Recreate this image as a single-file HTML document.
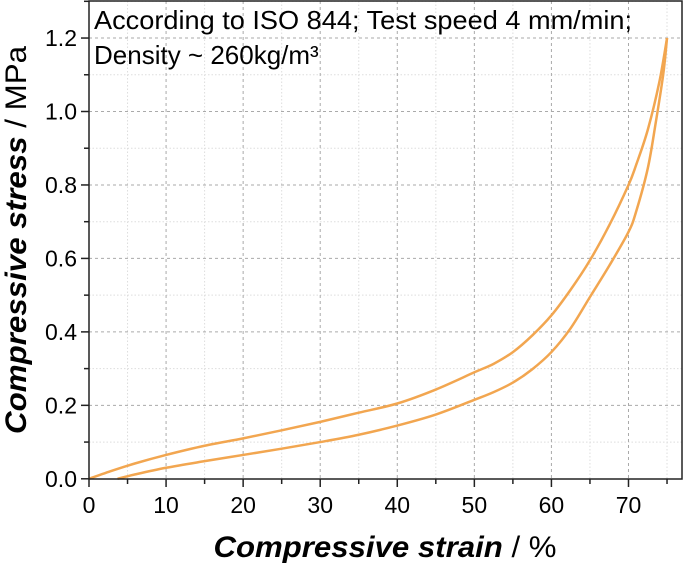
<!DOCTYPE html>
<html><head><meta charset="utf-8"><style>
body{margin:0;background:#fff;}
svg{display:block;font-family:"Liberation Sans",Arial,sans-serif;}
</style></head><body>
<svg id="c" width="685" height="572"></svg>
<script>
const xTicks=[0,10,20,30,40,50,60,70];
const yTicks=[0.0,0.2,0.4,0.6,0.8,1.0,1.2];
const yTickLabels=["0.0","0.2","0.4","0.6","0.8","1.0","1.2"];
const loadStrain=[0,3,6,10,15,20,25,30,35,40,45,50,52.5,55,57.5,60,62.5,65,67.5,70,71,72.5,74,75];
const loadStress=[0,0.022,0.042,0.065,0.09,0.11,0.132,0.155,0.18,0.205,0.243,0.29,0.313,0.345,0.39,0.445,0.515,0.595,0.69,0.8,0.855,0.95,1.08,1.2];
const unloadStrain=[75,74.5,73.5,72.5,71,70,67.5,65,62.5,60,57.5,55,52.5,50,45,40,35,30,25,20,15,10,6,3.7];
const unloadStress=[1.2,1.1,0.965,0.845,0.728,0.672,0.58,0.495,0.41,0.345,0.298,0.262,0.236,0.215,0.175,0.145,0.12,0.1,0.082,0.065,0.048,0.03,0.012,0];
const X0=89,XK=7.707,Y0=478.8,YK=367.3;
const xs=v=>X0+v*XK, ys=v=>Y0-v*YK;
const svg=document.getElementById('c');const NS='http://www.w3.org/2000/svg';
function mk(t,a,p){const e=document.createElementNS(NS,t);for(const k in a)e.setAttribute(k,a[k]);(p||svg).appendChild(e);return e;}
const L=89,R=682,T=1,B=479;
for(let v=5;v<77;v+=10){const g=mk('line',{x1:xs(v),x2:xs(v),y1:T,y2:B,stroke:'#ddd','stroke-dasharray':'1.5,2'});}
for(let v=0.1;v<1.3;v+=0.2){const g=mk('line',{x1:L,x2:R,y1:ys(v),y2:ys(v),stroke:'#ddd','stroke-dasharray':'1.5,2'});}
xTicks.forEach(v=>{if(v===0)return;const g=mk('line',{x1:xs(v),x2:xs(v),y1:T,y2:B,stroke:'#aaa','stroke-dasharray':'3,3'});});
yTicks.forEach(v=>{if(v===0)return;const g=mk('line',{x1:L,x2:R,y1:ys(v),y2:ys(v),stroke:'#aaa','stroke-dasharray':'3,3'});});
function path(xa,ya,name){const p=xa.map((x,i)=>[xs(x),ys(ya[i])]);
let d='M'+p[0][0]+','+p[0][1];
for(let i=0;i<p.length-1;i++){const p0=p[Math.max(0,i-1)],p1=p[i],p2=p[i+1],p3=p[Math.min(p.length-1,i+2)];
d+=' C'+(p1[0]+(p2[0]-p0[0])/6)+','+(p1[1]+(p2[1]-p0[1])/6)+' '+(p2[0]-(p3[0]-p1[0])/6)+','+(p2[1]-(p3[1]-p1[1])/6)+' '+p2[0]+','+p2[1];}
const e=mk('path',{d:d,fill:'none',stroke:'#f2a650','stroke-width':2.5});}
path(loadStrain,loadStress,'loading-curve');
path(unloadStrain,unloadStress,'unloading-curve');
const fr=mk('rect',{x:L,y:T,width:R-L,height:B-T,fill:'none',stroke:'#222','stroke-width':1.5});
xTicks.forEach((v,i)=>{mk('line',{x1:xs(v),x2:xs(v),y1:B,y2:B+8,stroke:'#222','stroke-width':1.5});
const t=mk('text',{x:xs(v),y:B+34,'text-anchor':'middle','font-size':23});t.textContent=v;});
for(let v=5;v<77;v+=10)mk('line',{x1:xs(v),x2:xs(v),y1:B,y2:B+5,stroke:'#222','stroke-width':1.5});
yTicks.forEach((v,i)=>{mk('line',{x1:L-8,x2:L,y1:ys(v),y2:ys(v),stroke:'#222','stroke-width':1.5});
const t=mk('text',{x:L-12,y:ys(v)+8,'text-anchor':'end','font-size':23});t.textContent=yTickLabels[i];});
for(let v=0.1;v<1.3;v+=0.2)mk('line',{x1:L-5,x2:L,y1:ys(v),y2:ys(v),stroke:'#222','stroke-width':1.5});
</script>
<svg width="685" height="572" style="position:absolute;left:0;top:0">
<text x="94" y="29" font-size="26" textLength="538" lengthAdjust="spacingAndGlyphs" font-family="Liberation Sans,Arial,sans-serif">According to ISO 844; Test speed 4 mm/min;</text>
<text x="94" y="64" font-size="26" font-family="Liberation Sans,Arial,sans-serif">Density ~ 260kg/m³</text>
<text x="385" y="557" text-anchor="middle" font-size="30" textLength="343" lengthAdjust="spacingAndGlyphs" font-family="Liberation Sans,Arial,sans-serif"><tspan font-weight="bold" font-style="italic">Compressive strain</tspan> / %</text>
<text transform="translate(26,240) rotate(-90)" text-anchor="middle" font-size="30" textLength="388" lengthAdjust="spacingAndGlyphs" font-family="Liberation Sans,Arial,sans-serif"><tspan font-weight="bold" font-style="italic">Compressive stress</tspan> / MPa</text>
</svg>
</body></html>
